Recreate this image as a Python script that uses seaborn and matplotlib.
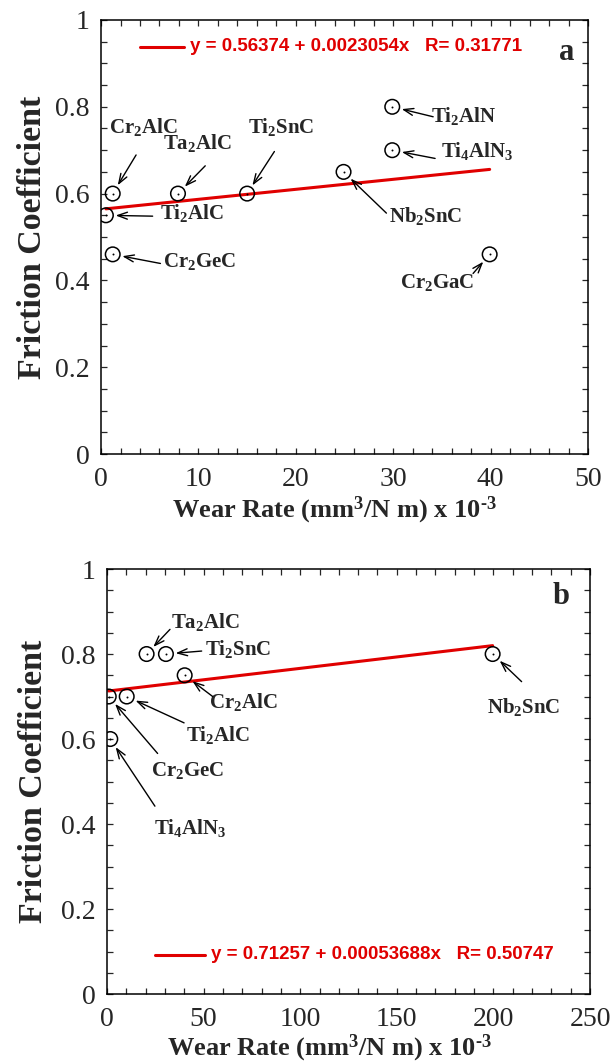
import re
import matplotlib.pyplot as plt
import seaborn as sns
import pandas as pd
from matplotlib.ticker import MultipleLocator

# panel a
a_names = ['Cr2AlC', 'Ta2AlC', 'Ti2SnC', 'Ti2AlC', 'Cr2GeC', 'Nb2SnC', 'Ti2AlN', 'Ti4AlN3', 'Cr2GaC']
a_wear = [1.2, 7.9, 15.0, 0.5, 1.2, 24.9, 29.9, 29.9, 39.9]
a_friction = [0.60, 0.60, 0.60, 0.55, 0.46, 0.65, 0.80, 0.70, 0.46]
a_fit = (0.56374, 0.0023054, 0.31771)

# panel b
b_names = ['Ta2AlC', 'Ti2SnC', 'Cr2AlC', 'Ti2AlC', 'Cr2GeC', 'Ti4AlN3', 'Nb2SnC']
b_wear = [20.5, 30.5, 40.2, 10.2, 0.9, 1.7, 199.6]
b_friction = [0.80, 0.80, 0.75, 0.70, 0.70, 0.60, 0.80]
b_fit = (0.71257, 0.00053688, 0.50747)

# label placement: (text x, text y, arrow tail x, arrow tail y) in data units
a_label_pos = [(4.3, 0.753, 3.6, 0.689), (9.9, 0.717, 10.7, 0.664), (18.5, 0.753, 17.8, 0.697),
               (9.3, 0.555, 5.3, 0.548), (10.1, 0.443, 6.1, 0.439), (33.3, 0.548, 29.3, 0.555),
               (37.2, 0.779, 34.1, 0.777), (38.6, 0.697, 34.3, 0.681), (34.5, 0.395, 38.2, 0.416)]
b_label_pos = [(50.7, 0.876, 32.6, 0.858), (67.7, 0.811, 49.0, 0.807), (70.5, 0.686, 54.7, 0.700),
               (57.2, 0.609, 39.9, 0.638), (41.9, 0.525, 26.2, 0.566), (43.0, 0.391, 24.8, 0.442),
               (215.8, 0.675, 214.6, 0.735)]

sns.set_style('ticks')
plt.rcParams['font.family'] = ['Liberation Serif', 'DejaVu Serif']
plt.rcParams['mathtext.fontset'] = 'custom'
plt.rcParams['mathtext.rm'] = 'Liberation Serif'
plt.rcParams['mathtext.bf'] = 'Liberation Serif:bold'
plt.rcParams['mathtext.default'] = 'bf'


def chem(name):
    return '$\\mathbf{' + re.sub(r'(\d)', r'_\1', name) + '}$'


def draw_panel(ax, names, wear, friction, fit, label_pos, xmax, xmajor, xminor, tag,
               fit_line_x, fit_text_y, ylab_x, xlab_x, xlab_y):
    df = pd.DataFrame({'wear': wear, 'friction': friction})
    x0, x1 = min(wear), max(wear)
    fit_df = pd.DataFrame({'wear': [x0, x1], 'friction': [fit[0] + fit[1] * x0, fit[0] + fit[1] * x1]})
    sns.lineplot(data=fit_df, x='wear', y='friction', ax=ax, color='#e00000', lw=2.2, zorder=2)
    sns.scatterplot(data=df, x='wear', y='friction', ax=ax, s=110, facecolor='none',
                    edgecolor='black', linewidth=1.1, zorder=3)
    sns.scatterplot(data=df, x='wear', y='friction', ax=ax, s=2, color='black', linewidth=0, zorder=4)

    for name, xv, yv, (tx, ty, ax_, ay_) in zip(names, wear, friction, label_pos):
        ax.text(tx, ty, chem(name), fontsize=15, ha='center', va='center')
        ax.annotate('', xy=(xv, yv), xytext=(ax_, ay_),
                    arrowprops=dict(arrowstyle='->,head_length=0.7,head_width=0.25',
                                    lw=1.0, color='black', shrinkA=0, shrinkB=7))

    # fit legend
    ax.plot(fit_line_x, [fit_text_y, fit_text_y], transform=ax.transAxes, color='#e00000', lw=2.2)
    ax.text(fit_line_x[1] + 0.013, fit_text_y,
            'y = %s + %sx   R= %s' % (fit[0], fit[1], fit[2]),
            transform=ax.transAxes, color='#e00000', fontsize=13.5, fontweight='bold',
            family=['Liberation Sans', 'DejaVu Sans'], va='center', ha='left')
    ax.text(tag[1], tag[2], tag[0], transform=ax.transAxes, fontsize=22, fontweight='bold',
            ha='center', va='center')

    ax.set_xlim(0, xmax)
    ax.set_ylim(0, 1)
    ax.xaxis.set_major_locator(MultipleLocator(xmajor))
    ax.xaxis.set_minor_locator(MultipleLocator(xminor))
    ax.yaxis.set_minor_locator(MultipleLocator(0.05))
    ax.set_yticks([0, 0.2, 0.4, 0.6, 0.8, 1])
    ax.set_yticklabels(['0', '0.2', '0.4', '0.6', '0.8', '1'])
    ax.tick_params(which='both', direction='in', top=True, right=True, length=4, width=0.9,
                   labelsize=20)
    ax.tick_params(axis='y', pad=8)
    ax.tick_params(axis='x', pad=9)
    for s in ax.spines.values():
        s.set_linewidth(1.1)
        s.set_color('black')
    ax.set_xlabel('Wear Rate (mm$^3$/N m) x 10$^{\u2010 3}$', fontsize=19, fontweight='bold')
    ax.set_ylabel('Friction Coefficient', fontsize=24.5, fontweight='bold')
    ax.yaxis.set_label_coords(ylab_x, 0.5)
    ax.xaxis.set_label_coords(xlab_x, xlab_y)


fig = plt.figure(figsize=(6.16, 10.63), dpi=100)
ax_a = fig.add_axes([0.164, 0.5729, 0.7906, 0.4083])
ax_b = fig.add_axes([0.1737, 0.0649, 0.7841, 0.3998])

draw_panel(ax_a, a_names, a_wear, a_friction, a_fit, a_label_pos, 50, 10, 2,
           ('a', 0.957, 0.924), [0.080, 0.170], 0.9385, -0.108, 0.48, -0.094)
draw_panel(ax_b, b_names, b_wear, b_friction, b_fit, b_label_pos, 250, 50, 10,
           ('b', 0.941, 0.935), [0.099, 0.203], 0.092, -0.121, 0.46, -0.09)

fig.savefig('out.png', dpi=100)
